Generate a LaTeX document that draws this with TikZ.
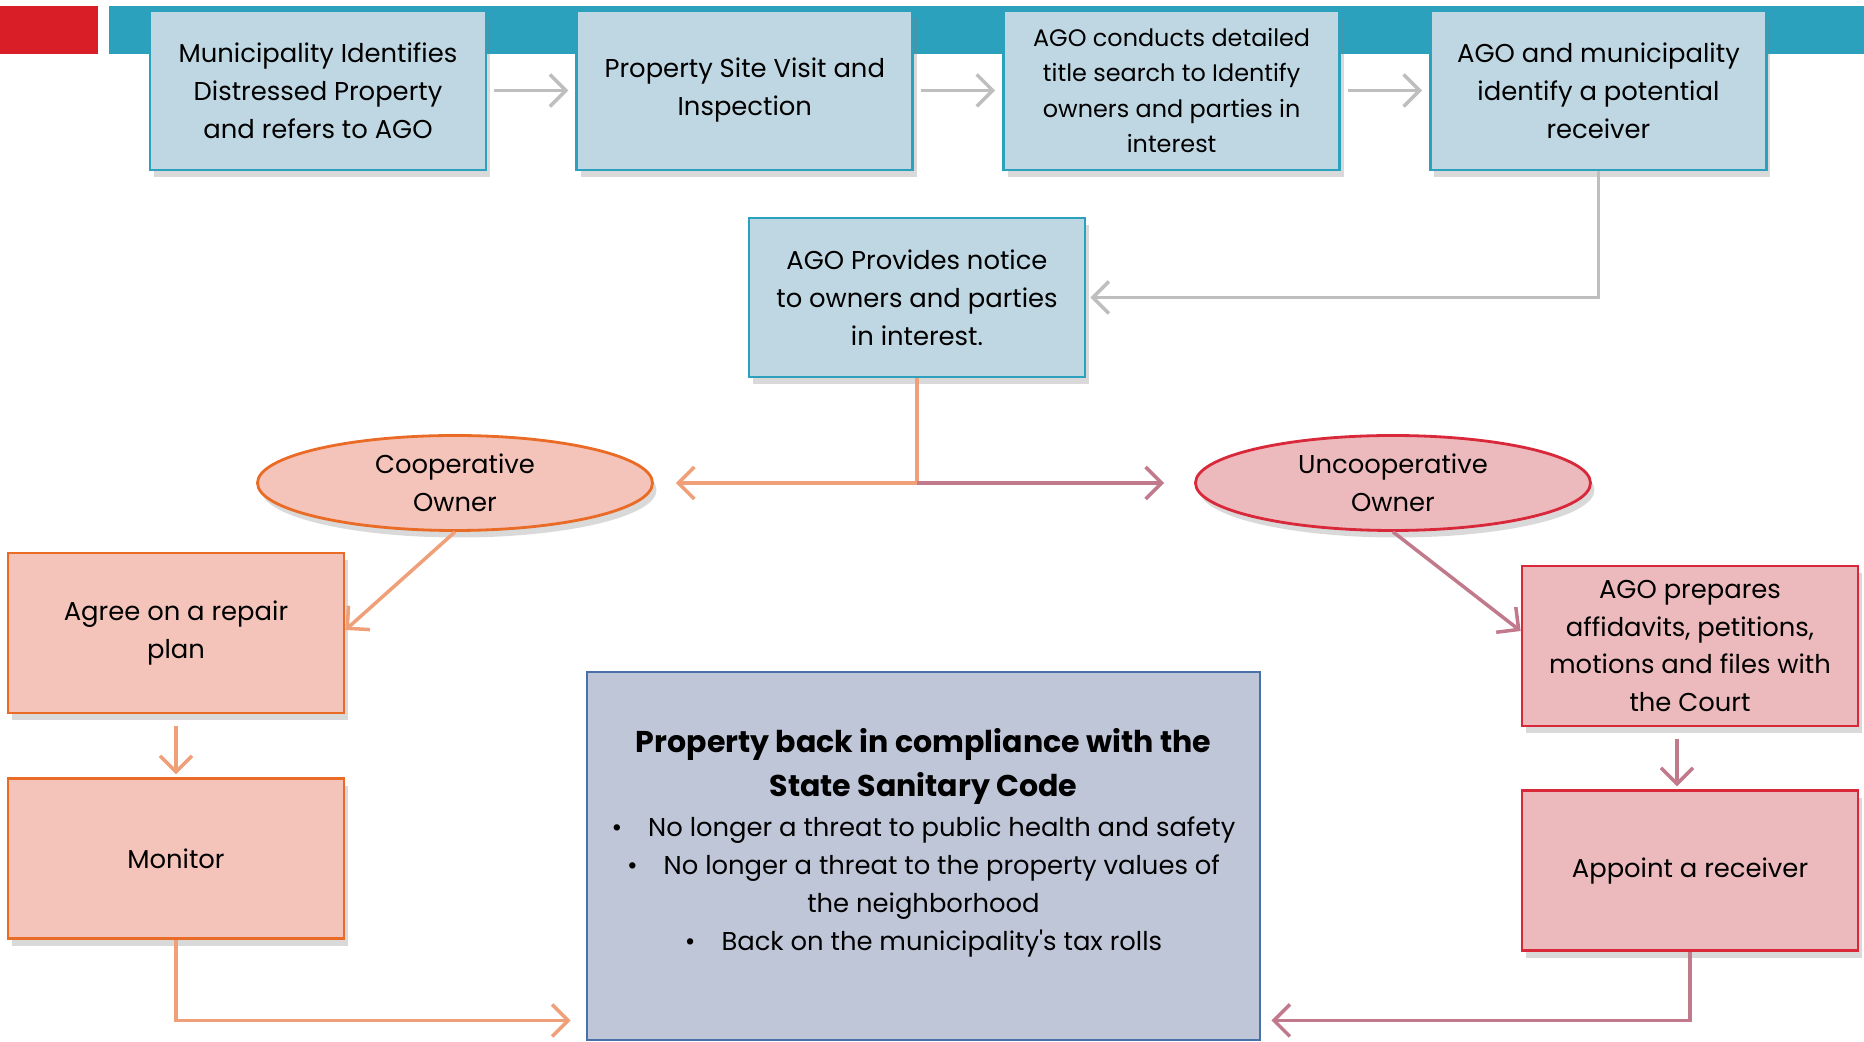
\documentclass[tikz,border=0pt]{standalone}
\usepackage{fontspec}
\setmainfont{Poppins}
\usetikzlibrary{arrows.meta, shapes.geometric, positioning, shadows}
\definecolor{barteal}{HTML}{2BA1BE}
\definecolor{barred}{HTML}{DA1E28}
\definecolor{stagefill}{HTML}{BFD7E2}
\definecolor{coopfill}{HTML}{F4C4BA}
\definecolor{coopline}{HTML}{E96B26}
\definecolor{cooparrow}{HTML}{F0A078}
\definecolor{uncoopfill}{HTML}{ECBABC}
\definecolor{uncoopline}{HTML}{D8283A}
\definecolor{uncooparrow}{HTML}{C07A8C}
\definecolor{goalfill}{HTML}{BFC6D8}
\definecolor{goalline}{HTML}{4A70AA}
\definecolor{greyarrow}{HTML}{BEBEBE}
\newcommand{\goaltitle}{\fontsize{8.55}{13}\selectfont\bfseries}

\begin{document}
\begin{tikzpicture}[
    node distance=0.88cm and 0.88cm,
    every node/.style={font=\fontsize{7.35}{10.8}\selectfont},
    boxshadow/.style={drop shadow={shadow xshift=0.4mm, shadow yshift=-0.7mm, opacity=0.3}},
    stage/.style={rectangle, minimum width=3.36cm, minimum height=1.59cm, align=center, draw=barteal, line width=0.8pt, fill=stagefill, boxshadow},
    coopowner/.style={ellipse, minimum width=3.95cm, minimum height=0.95cm, inner sep=0pt, align=center, draw=coopline, line width=0.8pt, fill=coopfill, boxshadow},
    uncoopowner/.style={ellipse, minimum width=3.95cm, minimum height=0.95cm, inner sep=0pt, align=center, draw=uncoopline, line width=0.8pt, fill=uncoopfill, boxshadow},
    coopstep/.style={rectangle, minimum width=3.36cm, minimum height=1.6cm, align=center, draw=coopline, line width=0.8pt, fill=coopfill, boxshadow},
    uncoopstep/.style={rectangle, minimum width=3.36cm, minimum height=1.6cm, align=center, draw=uncoopline, line width=0.8pt, fill=uncoopfill, boxshadow},
    goalbox/.style={rectangle, minimum width=6.73cm, minimum height=3.68cm, align=center, draw=goalline, line width=0.8pt, fill=goalfill},
    greyline/.style={line width=1pt, draw=greyarrow, -{Straight Barb[length=1.6mm, width=3.2mm]}},
    cooplink/.style={line width=1pt, draw=cooparrow, -{Straight Barb[length=1.6mm, width=3.2mm]}},
    uncooplink/.style={line width=1pt, draw=uncooparrow, -{Straight Barb[length=1.6mm, width=3.2mm]}}]
\useasboundingbox (0,0) rectangle (18.64,10.42);
\fill [barred] (0,9.88) rectangle (0.975,10.36);
\fill [barteal] (1.09,9.88) rectangle (18.64,10.36);
\node (identify) [stage] at (3.18,9.515) {Municipality Identifies\\Distressed Property\\and refers to AGO};
\node (visit) [stage, right=of identify] {Property Site Visit and\\Inspection};
\node (search) [stage, right=of visit, font=\fontsize{6.8}{10.1}\selectfont] {AGO conducts detailed\\title search to Identify\\owners and parties in\\interest};
\node (receiver) [stage, right=of search] {AGO and municipality\\identify a potential\\receiver};
\node (notice) [stage] at (9.17,7.445) {AGO Provides notice\\to owners and parties\\in interest.};
\node (coop) [coopowner] at (4.55,5.59) {Cooperative\\Owner};
\node (uncoop) [uncoopowner] at (13.93,5.59) {Uncooperative\\Owner};
\node (agree) [coopstep] at (1.76,4.09) {Agree on a repair\\plan};
\node (monitor) [coopstep, below=0.63cm of agree] {Monitor};
\node (prepare) [uncoopstep] at (16.90,3.96) {AGO prepares\\affidavits, petitions,\\motions and files with\\the Court};
\node (appoint) [uncoopstep, below=0.62cm of prepare] {Appoint a receiver};
\node (goal) [goalbox] at (9.235,1.86) {{\goaltitle Property back in compliance with the}\\[1.7pt]
    {\goaltitle State Sanitary Code}\\[0.5pt]
    \textbullet\hspace{2.6mm}No longer a threat to public health and safety\\
    \textbullet\hspace{2.6mm}No longer a threat to the property values of\\
    the neighborhood\\
    \textbullet\hspace{2.6mm}Back on the municipality\textquotesingle s tax rolls\\[-0.5mm]};
\coordinate (split) at (notice.south |- coop.center);
\draw [greyline, shorten <=0.7mm, shorten >=0.7mm] (identify) -- (visit);
\draw [greyline, shorten <=0.7mm, shorten >=0.7mm] (visit) -- (search);
\draw [greyline, shorten <=0.7mm, shorten >=0.7mm] (search) -- (receiver);
\draw [greyline, shorten >=0.4mm] (receiver) |- (notice);
\draw [cooplink, shorten >=2.2mm] (notice) -- (split) -- (coop);
\draw [uncooplink, shorten >=3mm] (split) -- (uncoop);
\draw [cooplink] (coop.south) -- ([yshift=0.3mm]agree.east);
\draw [uncooplink] (uncoop.south) -- ([yshift=1.5mm]prepare.west);
\draw [cooplink, shorten <=1.2mm, shorten >=0.3mm] (agree) -- (monitor);
\draw [uncooplink, shorten <=1.2mm, shorten >=0.3mm] ([xshift=-1.3mm]prepare.south) -- ([xshift=-1.3mm]appoint.north);
\draw [cooplink, shorten >=1.5mm] (monitor) |- ([yshift=2.1mm]goal.south west);
\draw [uncooplink, shorten >=1mm] (appoint) |- ([yshift=2.1mm]goal.south east);
\end{tikzpicture}
\end{document}
